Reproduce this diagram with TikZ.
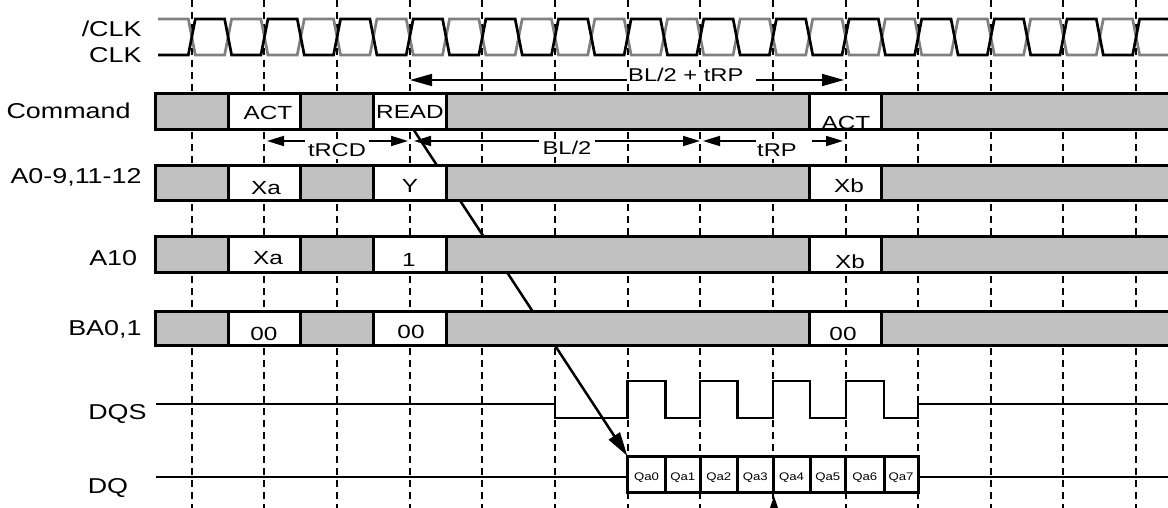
\documentclass[tikz,border=0pt]{standalone}
\usepackage{fontspec}
\newfontfamily\lblfont[FakeStretch=1.25]{Liberation Sans}
\newfontfamily\cellfont[FakeStretch=1.28]{Liberation Sans}
\newfontfamily\qfont[FakeStretch=1.2]{Liberation Sans}
\usetikzlibrary{arrows.meta}
\definecolor{boxgray}{RGB}{192,192,192}
\definecolor{clkgray}{RGB}{128,128,128}
\begin{document}
\begin{tikzpicture}[x=1pt,y=-1pt,
  sig/.style={font=\lblfont\fontsize{21.5}{23}\selectfont, anchor=base east, inner sep=0pt},
  celltxt/.style={font=\cellfont\fontsize{19}{21}\selectfont, anchor=base, inner sep=0pt},
  qtxt/.style={font=\qfont\fontsize{11}{12}\selectfont, anchor=base, inner sep=0pt},
  vgrid/.style={line width=2pt, dash pattern=on 7pt off 5pt},
  border/.style={line width=3pt},
  dimarrow/.style={line width=1.7pt, -{Triangle[length=17pt,width=10pt]}},
  bigdim/.style={line width=1.7pt, -{Triangle[length=22pt,width=12pt]}},
  dimlbl/.style={font=\cellfont\fontsize{18.5}{20}\selectfont, fill=white, inner xsep=3pt, inner ysep=2pt},
  wave/.style={line width=2.2pt},
  clkline/.style={line width=2.7pt, line join=miter},
]
\fill[white] (0,0) rectangle (1168,508);
\useasboundingbox (0,0) rectangle (1168,508);

% vertical dashed clock grid
\foreach \k in {0,...,13}{
  \draw[vgrid] ({191.8+72.64*\k},0) -- ({191.8+72.64*\k},508);
}

% diagonal READ -> data arrow (drawn under the rows)
\coordinate (rdsrc) at (402,112);
\coordinate (dqtl) at (627.4,456);
\draw[line width=2.5pt, -{Triangle[length=24pt,width=13pt]}] (rdsrc) -- (dqtl);

% clocks
\draw[clkline, clkgray] (158,19) \foreach \k in {0,...,27}{
  -- ({191.8+36.32*\k-3.5},{19+36*mod(\k,2)}) -- ({191.8+36.32*\k+3.5},{55-36*mod(\k,2)}) };
\draw[clkline, black] (158,55) \foreach \k in {0,...,27}{
  -- ({191.8+36.32*\k-3.5},{55-36*mod(\k,2)}) -- ({191.8+36.32*\k+3.5},{19+36*mod(\k,2)}) };

% bus rows
\foreach \T/\B in {93.3/129.3, 165.2/200.5, 236.7/272.3, 311/345.7}{
  \foreach \a/\b/\f in {155.5/228.1/boxgray, 228.1/300.8/white, 300.8/373.4/boxgray,
      373.4/446.0/white, 446.0/809.6/boxgray, 809.6/881.9/white, 881.9/1185/boxgray}{
    \draw[border, fill=\f] (\a,\T) rectangle (\b,\B);
  }
}

% cell texts
\node[celltxt] (act1) at (268,120) {ACT};
\node[celltxt] (read) at (410,119) {READ};
\begin{scope}
  \clip (811,95) rectangle (880.5,128);
  \node[celltxt] (act2) at (846,129.5) {ACT};
\end{scope}
\node[celltxt] (xa1) at (266,195) {Xa};
\node[celltxt] (ycol) at (410,193) {Y};
\node[celltxt] (xb1) at (849,193) {Xb};
\node[celltxt] (xa2) at (268,264.5) {Xa};
\node[celltxt] (one) at (409,266) {1};
\node[celltxt] (xb2) at (850,268) {Xb};
\node[celltxt] (ba1) at (264,340) {00};
\node[celltxt] (ba2) at (411,338) {00};
\node[celltxt] (ba3) at (843,340) {00};

% timing dimensions
\coordinate (bltL) at (410,80);
\coordinate (bltR) at (844,80);
\node[dimlbl, anchor=base west, inner xsep=1pt] (blt) at (627,82) {BL/2 + tRP};
\coordinate (blt0) at (756,80);
\draw[bigdim] (blt.west |- bltL) -- (bltL);
\draw[bigdim] (blt0) -- (bltR);

\coordinate (trcdL) at (267,141);
\coordinate (trcdR) at (408,141);
\node[dimlbl, anchor=base] (trcd) at (337,157) {tRCD};
\draw[dimarrow] (trcd.west |- trcdL) -- (trcdL);
\draw[dimarrow] (trcd.east |- trcdR) -- (trcdR);

\coordinate (bl2L) at (414,141);
\coordinate (bl2R) at (700,141);
\node[dimlbl, anchor=base] (bl2) at (567,155) {BL/2};
\draw[dimarrow] (bl2.west |- bl2L) -- (bl2L);
\draw[dimarrow] (bl2.east |- bl2R) -- (bl2R);

\coordinate (trpL) at (703,141);
\coordinate (trpR) at (843,141);
\node[dimlbl, anchor=base west, inner xsep=1pt] (trp) at (756,157) {tRP};
\coordinate (trp0) at (812,141);
\draw[dimarrow] (trp.west |- trpL) -- (trpL);
\draw[dimarrow] (trp0) -- (trpR);

% DQS
\draw[wave] (156,404.3) -- (555,404.3) -- (555,418.3) -- (627.4,418.3) -- (627.4,380.7)
  -- (665.5,380.7) -- (665.5,418.3) -- (700,418.3) -- (700,380.7) -- (737.5,380.7)
  -- (737.5,418.3) -- (773,418.3) -- (773,380.7) -- (810,380.7) -- (810,418.3)
  -- (845.6,418.3) -- (845.6,380.7) -- (884,380.7) -- (884,418.3) -- (918.2,418.3)
  -- (918.2,404.3) -- (1175,404.3);

% DQ
\draw[wave] (156,476.7) -- (627.4,476.7);
\draw[wave] (918.2,476.7) -- (1175,476.7);
\draw[border, fill=white] (627.4,456) rectangle (918.2,492.3);
\foreach \x in {665.5,700,737.5,773,810,845.6,884}{
  \draw[border] (\x,456) -- (\x,492.3);
}
\foreach \x/\n/\t in {646.5/q0/Qa0, 682.8/q1/Qa1, 718.8/q2/Qa2, 755.3/q3/Qa3,
    791.5/q4/Qa4, 827.8/q5/Qa5, 864.8/q6/Qa6, 901.1/q7/Qa7}{
  \node[qtxt] (\n) at (\x,480.7) {\t};
}

% arrow entering from below
\coordinate (upsrc) at (774,540);
\coordinate (uptip) at (774,496);
\draw[line width=2pt, -{Triangle[length=14pt,width=9pt]}] (upsrc) -- (uptip);

% signal names
\node[sig] (nclk) at (141.7,36.7) {/CLK};
\node[sig] (clk) at (141.7,62.3) {CLK};
\node[sig] (cmd) at (130.7,119) {Command};
\node[sig] (addr) at (141.7,184) {A0-9,11-12};
\node[sig] (a10) at (137.3,265) {A10};
\node[sig] (ba) at (141.7,335) {BA0,1};
\node[sig] (dqs) at (146.7,419.3) {DQS};
\node[sig] (dq) at (128.3,493.3) {DQ};
\end{tikzpicture}
\end{document}
